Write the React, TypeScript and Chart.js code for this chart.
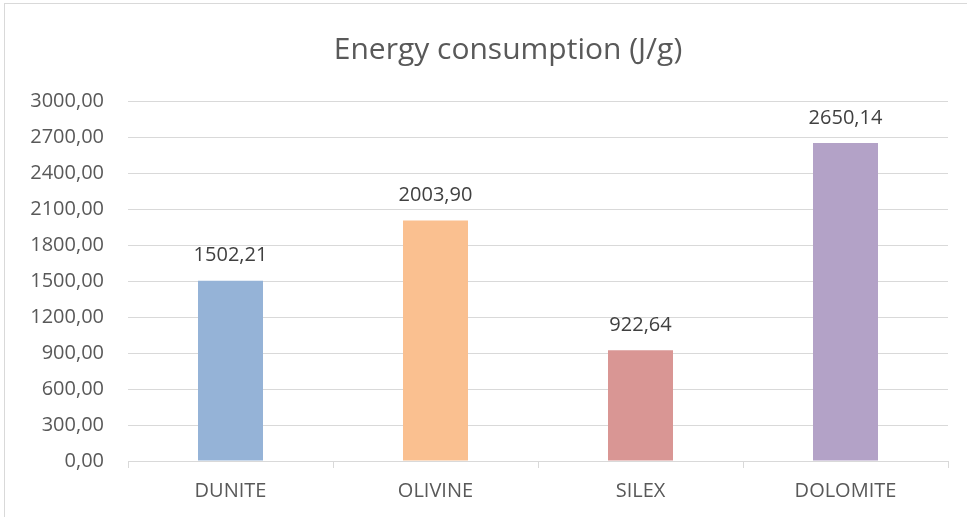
import React, { useEffect, useRef } from "react";
import { Chart, registerables } from "chart.js";

Chart.register(...registerables);

const categories = ["DUNITE", "OLIVINE", "SILEX", "DOLOMITE"];
const energyValues = [1502.21, 2003.9, 922.64, 2650.14];
const barColors = ["#95B3D7", "#FAC090", "#D99694", "#B3A2C7"];
const yTicks = [0, 300, 600, 900, 1200, 1500, 1800, 2100, 2400, 2700, 3000];
const chartTitle = "Energy consumption (J/g)";

const fmt = (v: number) => v.toFixed(2).replace(".", ",");

const FONT = "'Open Sans', 'Liberation Sans', sans-serif";

const dataLabelPlugin = {
  id: "dataLabels",
  afterDatasetsDraw(chart: any) {
    const ctx = chart.ctx;
    const meta = chart.getDatasetMeta(0);
    ctx.save();
    ctx.font = `20px ${FONT}`;
    ctx.fillStyle = "#404040";
    ctx.textAlign = "center";
    ctx.textBaseline = "middle";
    meta.data.forEach((bar: any, i: number) => {
      ctx.fillText(fmt(energyValues[i]), bar.x, bar.y - 25);
    });
    ctx.restore();
  },
};

// Title centred on the full (cropped) Excel chart frame, which extends past the right edge
const titlePlugin = {
  id: "offsetTitle",
  afterDraw(chart: any) {
    const ctx = chart.ctx;
    ctx.save();
    ctx.font = `30px ${FONT}`;
    ctx.fillStyle = "#595959";
    ctx.textAlign = "center";
    ctx.textBaseline = "middle";
    ctx.fillText(chartTitle, 503, 46);
    ctx.restore();
  },
};

export default function App() {
  const ref = useRef<HTMLCanvasElement | null>(null);
  useEffect(() => {
    document.body.style.overflow = "hidden";
    const chart = new Chart(ref.current as HTMLCanvasElement, {
      type: "bar",
      data: {
        labels: categories,
        datasets: [
          {
            data: energyValues,
            backgroundColor: barColors,
            categoryPercentage: 1,
            barPercentage: 0.317,
          },
        ],
      },
      options: {
        responsive: false,
        animation: false,
        layout: { padding: { left: 0, right: 19, top: 97, bottom: 3 } },
        plugins: {
          legend: { display: false },
          tooltip: { enabled: false },
          title: { display: false },
        },
        scales: {
          x: {
            offset: true,
            grid: {
              offset: true,
              drawOnChartArea: false,
              drawTicks: true,
              tickLength: 7,
              color: "#D9D9D9",
            },
            border: { display: true, color: "#D9D9D9" },
            ticks: {
              color: "#595959",
              font: { family: FONT, size: 20 },
              padding: 11,
              maxRotation: 0,
            },
          },
          y: {
            min: 0,
            max: 3000,
            afterFit(scale: any) {
              scale.width = 123;
            },
            afterBuildTicks(scale: any) {
              scale.ticks = yTicks.map((v) => ({ value: v }));
            },
            grid: { color: "#D9D9D9", drawTicks: false },
            border: { display: false },
            ticks: {
              color: "#595959",
              font: { family: FONT, size: 20 },
              padding: 24,
              callback: (v: any) => fmt(Number(v)),
            },
          },
        },
      },
      plugins: [dataLabelPlugin, titlePlugin],
    });
    return () => chart.destroy();
  }, []);

  return (
    <div
      style={{
        position: "absolute",
        left: 4,
        top: 3,
        width: 962,
        height: 513,
        borderLeft: "1px solid #D9D9D9",
        borderTop: "1px solid #D9D9D9",
        background: "#fff",
      }}
    >
      <canvas ref={ref} width={962} height={513} style={{ display: "block" }} />
    </div>
  );
}
